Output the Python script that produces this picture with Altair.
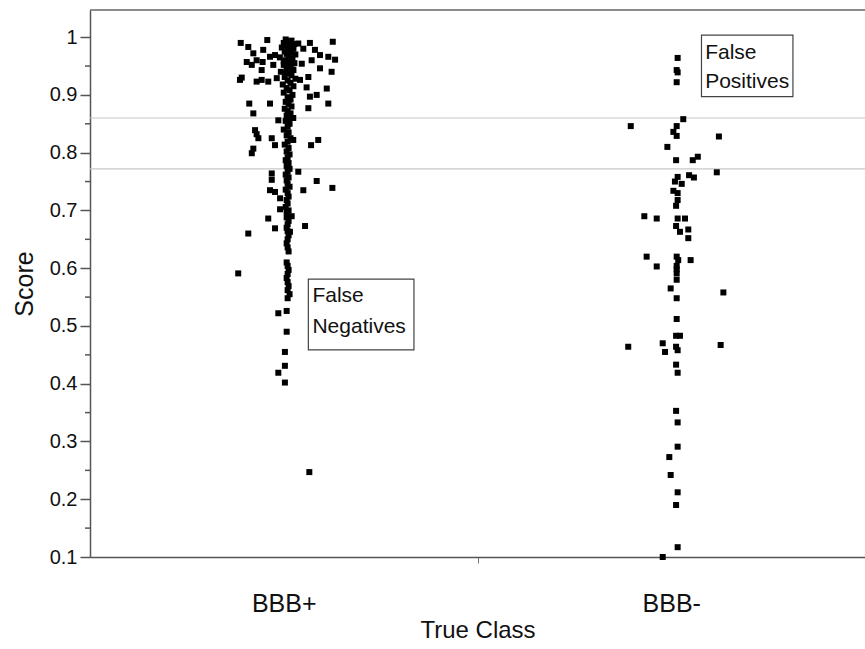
import altair as alt
import pandas as pd

# ---------------- data ----------------
classes = ["BBB+", "BBB-"]
class_pos = [1, 3]

# BBB+ : score and horizontal jitter (in class-axis units)
bbbp_score = [
    0.990, 0.995, 0.983, 0.978, 0.972, 0.957, 0.960, 0.957, 0.966, 0.969,
    0.952, 0.943, 0.952, 0.989, 0.990, 0.992, 0.980, 0.978, 0.969, 0.966,
    0.961, 0.960, 0.954, 0.946, 0.940, 0.931, 0.926, 0.913, 0.911, 0.900,
    0.897, 0.885, 0.877, 0.926, 0.930, 0.923, 0.926, 0.923, 0.929, 0.885,
    0.868, 0.885, 0.839, 0.832, 0.825, 0.807, 0.799, 0.825, 0.813, 0.822,
    0.813, 0.822, 0.856, 0.860, 0.764, 0.753, 0.735, 0.732, 0.721, 0.767,
    0.751, 0.735, 0.739, 0.686, 0.669, 0.690, 0.660, 0.673, 0.663, 0.591,
    0.522, 0.526, 0.490, 0.455, 0.431, 0.419, 0.402, 0.247, 0.702, 0.698,
    0.996, 0.994, 0.992, 0.990, 0.988, 0.986, 0.984, 0.982, 0.980, 0.978,
    0.975, 0.973, 0.970, 0.968, 0.965, 0.963, 0.960, 0.957, 0.955, 0.952,
    0.949, 0.946, 0.943, 0.940, 0.937, 0.934, 0.931, 0.928, 0.925, 0.921,
    0.918, 0.915, 0.912, 0.908, 0.904, 0.900, 0.896, 0.892, 0.888, 0.884,
    0.880, 0.876, 0.872, 0.868, 0.864, 0.860, 0.855, 0.850, 0.845, 0.840,
    0.835, 0.830, 0.825, 0.819, 0.814, 0.808, 0.802, 0.797, 0.792, 0.787,
    0.782, 0.777, 0.772, 0.767, 0.762, 0.757, 0.752, 0.746, 0.741, 0.736,
    0.730, 0.724, 0.718, 0.712, 0.706, 0.700, 0.694, 0.688, 0.682, 0.676,
    0.670, 0.664, 0.657, 0.650, 0.643, 0.636, 0.629, 0.610, 0.604, 0.597,
    0.590, 0.583, 0.576, 0.569, 0.562, 0.555, 0.548,
    0.993, 0.987, 0.981, 0.976, 0.971, 0.962, 0.958, 0.950, 0.944, 0.938,
]
bbbp_jitter = [
    -0.222, -0.085, -0.183, -0.106, -0.157, -0.191, -0.140, -0.109, -0.071, -0.045,
    -0.054, -0.114, -0.165, 0.075, 0.135, 0.253, 0.101, 0.161, 0.187, 0.230,
    0.265, 0.144, 0.093, 0.187, 0.247, 0.127, 0.084, 0.118, 0.222, 0.170,
    0.135, 0.230, 0.127, -0.226, -0.217, -0.140, -0.114, -0.080, -0.036, -0.178,
    -0.157, -0.071, -0.148, -0.140, -0.131, -0.157, -0.165, -0.062, -0.045, 0.049,
    0.141, 0.178, -0.028, 0.049, -0.062, -0.062, -0.071, -0.045, -0.019, 0.075,
    0.170, 0.101, 0.251, -0.080, -0.045, 0.041, -0.183, 0.110, 0.032, -0.235,
    -0.028, 0.015, 0.015, 0.006, 0.006, -0.028, 0.006, 0.132, -0.019, 0.015,
    0.010, 0.040, 0.025, 0.000, 0.055, 0.015, 0.035, -0.010, 0.050, 0.020,
    0.005, 0.040, 0.060, 0.025, -0.020, 0.045, 0.010, 0.030, 0.055, 0.000,
    0.035, 0.015, 0.050, -0.015, 0.025, 0.040, 0.005, 0.060, 0.020, 0.035,
    -0.005, 0.050, 0.015, 0.030, 0.000, 0.045, 0.020, 0.035, 0.010, 0.025,
    0.040, 0.005, 0.020, 0.035, 0.015, 0.025, 0.010, 0.030, 0.020, 0.000,
    0.025, 0.015, 0.035, 0.020, 0.005, 0.025, 0.015, 0.030, 0.020, 0.010,
    0.025, 0.015, 0.030, 0.020, 0.010, 0.025, 0.015, 0.020, 0.030, 0.010,
    0.020, 0.025, 0.015, 0.020, 0.010, 0.025, 0.020, 0.015, 0.025, 0.020,
    0.015, 0.020, 0.025, 0.020, 0.015, 0.020, 0.025, 0.015, 0.020, 0.025,
    0.020, 0.015, 0.020, 0.025, 0.020, 0.030, 0.020,
    0.030, 0.005, 0.045, 0.030, 0.015, 0.040, 0.000, 0.025, 0.045, 0.010,
]

# BBB- : score and horizontal jitter
bbbm_score = [
    0.964, 0.943, 0.939, 0.922, 0.858, 0.846, 0.846, 0.836, 0.829, 0.828,
    0.810, 0.787, 0.787, 0.793, 0.766, 0.758, 0.761, 0.757, 0.750, 0.746,
    0.734, 0.730, 0.718, 0.708, 0.690, 0.686, 0.686, 0.686, 0.673, 0.663,
    0.667, 0.652, 0.620, 0.620, 0.614, 0.614, 0.603, 0.604, 0.598, 0.591,
    0.580, 0.565, 0.558, 0.548, 0.512, 0.483, 0.483, 0.464, 0.470, 0.455,
    0.464, 0.458, 0.467, 0.433, 0.419, 0.353, 0.333, 0.291, 0.273, 0.242,
    0.212, 0.190, 0.117, 0.100,
]
bbbm_jitter = [
    0.033, 0.028, 0.033, 0.028, 0.062, -0.209, 0.028, 0.011, 0.028, 0.246,
    -0.020, 0.025, 0.111, 0.137, 0.235, 0.033, 0.092, 0.117, 0.019, 0.054,
    0.011, 0.033, 0.033, 0.025, -0.139, -0.075, 0.033, 0.071, 0.025, 0.045,
    0.088, 0.088, -0.127, 0.028, 0.036, 0.100, -0.075, 0.028, 0.028, 0.028,
    0.028, -0.003, 0.269, 0.028, 0.028, 0.025, 0.045, -0.222, -0.044, -0.032,
    0.025, 0.033, 0.255, 0.025, 0.033, 0.025, 0.033, 0.033, -0.010, -0.003,
    0.033, 0.025, 0.033, -0.044,
]

thresholds = [0.86, 0.772]
y_major = [0.1, 0.2, 0.3, 0.4, 0.5, 0.6, 0.7, 0.8, 0.9, 1.0]
y_minor = [0.15, 0.25, 0.35, 0.45, 0.55, 0.65, 0.75, 0.85, 0.95]
x_ticks = [1, 2, 3]
y_domain = [0.1, 1.047]
x_domain = [0, 4]

annotations = ["False Positives", "False Negatives"]

# ---------------- tables ----------------
rows = []
for s, j in zip(bbbp_score, bbbp_jitter):
    rows.append({"cls": classes[0], "x": class_pos[0] + j, "score": s})
for s, j in zip(bbbm_score, bbbm_jitter):
    rows.append({"cls": classes[1], "x": class_pos[1] + j, "score": s})
df = pd.DataFrame(rows)

FONT = "Liberation Sans"
TXT = "#111"
xs = alt.Scale(domain=x_domain, nice=False, zero=False)
ys = alt.Scale(domain=y_domain, nice=False, zero=False)

x_axis = alt.Axis(
    values=x_ticks,
    labelExpr="datum.value == 1 ? 'BBB+' : (datum.value == 3 ? 'BBB-' : '')",
    tickOpacity={"condition": {"test": "datum.value == 2", "value": 1}, "value": 0},
    tickSize=6, tickColor="#777", tickWidth=1,
    grid=False, title="True Class",
    labelFontSize=25, labelPadding=28, titleFontSize=24, titlePadding=2,
    labelColor=TXT, titleColor=TXT, titleFontWeight="normal",
)
y_axis = alt.Axis(
    values=y_major,
    labelExpr="format(datum.value, '.1~f')",
    tickSize=10,
    grid=False, title="Score", labelFontSize=20, labelPadding=3,
    titleFontSize=25, titlePadding=12, labelColor=TXT, titleColor=TXT,
    titleFontWeight="normal", tickColor="#555", tickWidth=1.5,
)

points = alt.Chart(df).mark_square(size=36, color="black", opacity=1).encode(
    x=alt.X("x:Q", scale=xs, axis=x_axis),
    y=alt.Y("score:Q", scale=ys, axis=y_axis),
)

minor_ticks = alt.Chart(pd.DataFrame({"m": y_minor})).mark_rule(
    color="#555", strokeWidth=1.5
).encode(y=alt.Y("m:Q", scale=ys), x=alt.value(-5), x2=alt.value(0))

hlines = alt.Chart(pd.DataFrame({"t": thresholds})).mark_rule(
    color="#c8c8c8", strokeWidth=1.2
).encode(y=alt.Y("t:Q", scale=ys))

top = alt.Chart(pd.DataFrame({"t": [y_domain[1]]})).mark_rule(
    color="#666", strokeWidth=1.5
).encode(y=alt.Y("t:Q", scale=ys))

boxes_df = pd.DataFrame({
    "label": annotations,
    "x1": [3.156, 1.127], "x2": [3.628, 1.672],
    "y1": [1.0035, 0.581], "y2": [0.897, 0.4585],
})
boxes = alt.Chart(boxes_df).mark_rect(
    fill="white", fillOpacity=0, stroke="#444", strokeWidth=1.2
).encode(
    x=alt.X("x1:Q", scale=xs), x2="x2:Q",
    y=alt.Y("y1:Q", scale=ys), y2="y2:Q",
)

text_df = pd.DataFrame({
    "txt": ["False", "Positives", "False", "Negatives"],
    "x": [3.175, 3.175, 1.148, 1.148],
    "y": [0.972, 0.922, 0.551, 0.499],
})
texts = alt.Chart(text_df).mark_text(
    align="left", baseline="middle", fontSize=21, font=FONT, color=TXT
).encode(
    x=alt.X("x:Q", scale=xs), y=alt.Y("y:Q", scale=ys), text="txt:N"
)

chart = alt.layer(hlines, top, minor_ticks, points, boxes, texts).properties(
    width=775, height=547,
    autosize=alt.AutoSizeParams(type="none"),
    padding={"left": 90, "top": 10, "right": 0, "bottom": 92},
    background="white",
).configure_view(stroke=None).configure_axis(
    labelFont=FONT, titleFont=FONT, domainColor="#555", domainWidth=1.5,
)

chart.save("out.html", embed_options={"renderer": "svg", "actions": False})
